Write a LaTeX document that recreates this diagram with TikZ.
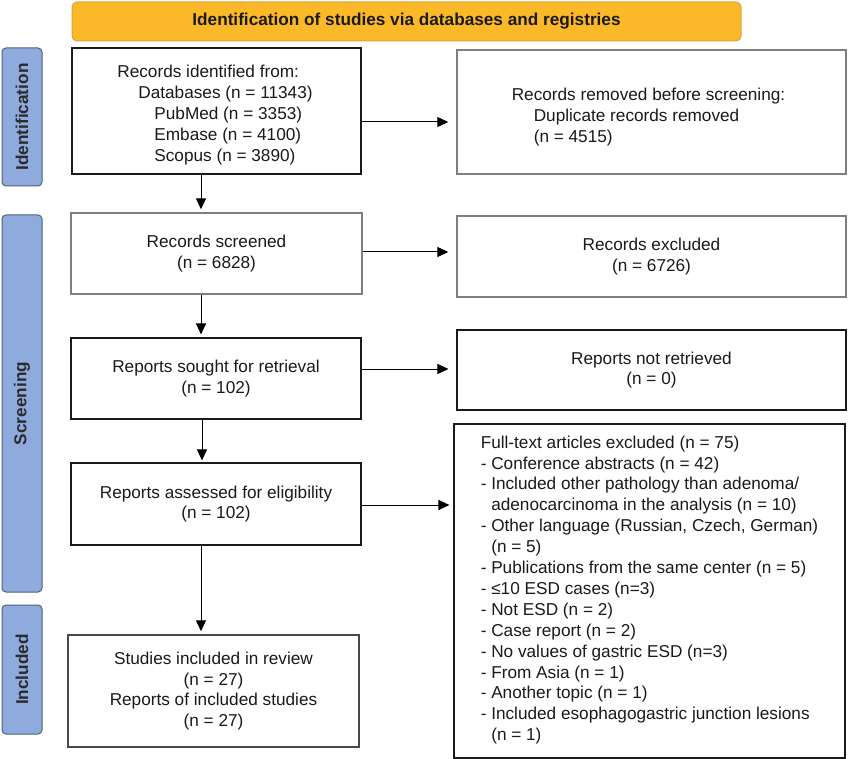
\documentclass[tikz,border=0pt]{standalone}
\usepackage{fontspec}
\setmainfont{Liberation Sans}
\usetikzlibrary{arrows.meta,calc}
\definecolor{bannerfill}{HTML}{FBB829}
\definecolor{bannerdraw}{HTML}{D9A441}
\definecolor{sidefill}{HTML}{8FAADC}
\definecolor{sidedraw}{HTML}{4F5F7A}
\definecolor{txt}{HTML}{1A1A1A}
\definecolor{sidetxt}{HTML}{2B2B2B}
\definecolor{greyline}{HTML}{7F7F7F}
\definecolor{darkline}{HTML}{1A1A1A}
\begin{document}
\begin{tikzpicture}[x=1pt,y=-1pt,
  every node/.style={font=\fontsize{17.2}{20.9}\selectfont, text=txt},
  pbox/.style={draw=darkline, line width=1.1pt, fill=white, inner sep=0pt, align=center},
  gbox/.style={pbox, draw=greyline, line width=1.4pt},
  sidebar/.style={draw=sidedraw, line width=1pt, fill=sidefill, rounded corners=4pt,
     rotate=90, inner sep=0pt, text=sidetxt, font=\fontsize{17.2}{20}\selectfont\bfseries},
  banner/.style={draw=bannerdraw, line width=1pt, fill=bannerfill, rounded corners=5pt,
     inner sep=0pt, font=\fontsize{17.2}{20}\selectfont\bfseries},
  arr/.style={draw=black, line width=1pt, -{Triangle[length=11pt,width=10pt]}},
  freetext/.style={inner sep=0pt, align=left}
]
\useasboundingbox (0,0) rectangle (848,759);

% banner
\node[banner, minimum width=669pt, minimum height=39pt] (ban) at (406.5,21.5)
  {Identification of studies via databases and registries};

% side bars
\node[sidebar, minimum width=138pt, minimum height=40pt] (sideI) at (22,117) {Identification};
\node[sidebar, minimum width=377pt, minimum height=40pt] (sideS) at (22,403.5) {Screening};
\node[sidebar, minimum width=129pt, minimum height=40pt] (sideC) at (22,669.5) {Included};

% boxes
\node[pbox, minimum width=289pt, minimum height=126pt] (idf) at (216.5,111) {};
\node[freetext] (idft) at (215,115) {Records identified from:\\
  \hspace*{21pt}Databases (n = 11343)\\
  \hspace*{37pt}PubMed (n = 3353)\\
  \hspace*{37pt}Embase (n = 4100)\\
  \hspace*{37pt}Scopus (n = 3890)};

\node[gbox, minimum width=389pt, minimum height=124pt] (rem) at (651.5,112) {};
\node[freetext] (remt) at (648.5,117) {Records removed before screening:\\
  \hspace*{22pt}Duplicate records removed\\
  \hspace*{22pt}(n = 4515)};

\node[gbox, minimum width=291pt, minimum height=81pt] (scr) at (216.5,253.5)
  {Records screened\\(n = 6828)};
\node[gbox, minimum width=389pt, minimum height=81pt] (exc) at (651.5,256.5)
  {Records excluded\\(n = 6726)};

\node[pbox, minimum width=290pt, minimum height=81pt] (sou) at (216,378.5)
  {Reports sought for retrieval\\(n = 102)};
\node[pbox, minimum width=389pt, minimum height=80pt] (nr) at (651.5,370)
  {Reports not retrieved\\(n = 0)};

\node[pbox, minimum width=290pt, minimum height=82pt] (ass) at (216,504)
  {Reports assessed for eligibility\\(n = 102)};

\node[pbox, minimum width=391pt, minimum height=334pt] (ft) at (649.5,591) {};
\node[freetext] (ftt) at (649.5,590) {Full-text articles excluded (n = 75)\\
- Conference abstracts (n = 42)\\
- Included other pathology than adenoma/\\
\hphantom{- }adenocarcinoma in the analysis (n = 10)\\
- Other language (Russian, Czech, German)\\
\hphantom{- }(n = 5)\\
- Publications from the same center (n = 5)\\
- ≤10 ESD cases (n=3)\\
- Not ESD (n = 2)\\
- Case report (n = 2)\\
- No values of gastric ESD (n=3)\\
- From Asia (n = 1)\\
- Another topic (n = 1)\\
- Included esophagogastric junction lesions\\
\hphantom{- }(n = 1)};

\node[gbox, draw=darkline!80, minimum width=291pt, minimum height=112pt] (inc) at (213.5,691)
  {Studies included in review\\(n = 27)\\Reports of included studies\\(n = 27)};

% horizontal arrows
\draw[arr, shorten >=8pt] ([yshift=-11pt]idf.east) -- ([yshift=-11pt]idf.east -| rem.west);
\draw[arr, shorten >=8pt] ([yshift=1.5pt]scr.east) -- ([yshift=1.5pt]scr.east -| exc.west);
\draw[arr, shorten >=8pt] ([yshift=9.5pt]sou.east) -- ([yshift=9.5pt]sou.east -| nr.west);
\draw[arr, shorten >=4pt] ([yshift=-1pt]ass.east) -- ([yshift=-1pt]ass.east -| ft.west);

% vertical arrows
\draw[arr, shorten >=3pt] ([xshift=-15.5pt]idf.south) -- ([xshift=-15.5pt]idf.south |- scr.north);
\draw[arr, shorten >=3pt] ([xshift=-15.5pt]scr.south) -- ([xshift=-15.5pt]scr.south |- sou.north);
\draw[arr, shorten >=2pt] ([xshift=-14pt]sou.south) -- ([xshift=-14pt]sou.south |- ass.north);
\draw[arr, shorten >=3pt] ([xshift=-15pt]ass.south) -- ([xshift=-15pt]ass.south |- inc.north);
\end{tikzpicture}
\end{document}
